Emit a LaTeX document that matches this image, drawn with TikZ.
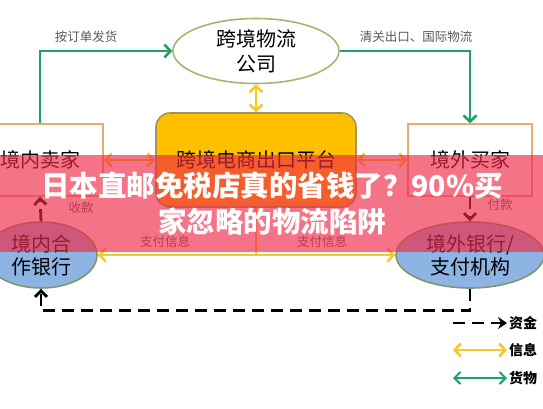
\documentclass[tikz,border=0pt]{standalone}
\usepackage{fontspec}
\setmainfont{Noto Sans CJK SC}
\usepackage{tikz}
\usetikzlibrary{arrows.meta, positioning, shapes.geometric}
\usepackage{xcolor}
\definecolor{goodsgreen}{RGB}{30,162,104}
\definecolor{infoyellow}{RGB}{246,200,40}
\definecolor{platgold}{RGB}{255,192,0}
\definecolor{platedge}{RGB}{160,150,90}
\definecolor{boxtan}{RGB}{232,168,120}
\definecolor{ovalolive}{RGB}{170,180,110}
\definecolor{bankblue}{RGB}{141,180,226}
\definecolor{bankedge}{RGB}{130,150,110}
\definecolor{bannerred}{RGB}{240,40,70}

\begin{document}
\begin{tikzpicture}[x=1pt,y=-1pt,font=\fontsize{20}{25}\selectfont,
    box/.style={draw=boxtan,line width=1.6pt,minimum height=72pt,align=center},
    oval/.style={ellipse,line width=1.6pt,inner sep=0pt,align=center},
    lbl/.style={font=\fontsize{12.5}{14}\selectfont,text=black!65},
    key/.style={font=\fontsize{14}{16}\selectfont\bfseries,anchor=west,inner sep=2pt},
    garr/.style={-{Straight Barb[length=6pt,width=13pt]},goodsgreen,line width=2.6pt},
    yarr/.style={{Straight Barb[length=6pt,width=13pt]}-{Straight Barb[length=6pt,width=13pt]},infoyellow,line width=2.6pt},
    yone/.style={-{Straight Barb[length=6pt,width=13pt]},infoyellow,line width=2.6pt},
    marr/.style={-{Straight Barb[length=6pt,width=12pt]},black,line width=2.8pt,dash pattern=on 12pt off 7pt}]
    \useasboundingbox (0,0) rectangle (543,408);
    \clip (0,0) rectangle (543,408);
    % carriers and platform
    \node[oval,draw=ovalolive,fill=white,minimum width=166pt,minimum height=65pt] (carrier) at (256,51) {跨境物流\\公司};
    \node[draw=platedge,fill=platgold,line width=1.6pt,rounded corners=14pt,
          minimum width=200pt,minimum height=94pt] (plat) at (256,160) {跨境电商出口平台};
    \node[box,minimum width=126pt] (seller) at (40,160) {境内卖家};
    \node[box,minimum width=124pt] (buyer) at (470,160) {境外买家};
    % banks
    \node[oval,draw=bankedge,fill=bankblue,minimum width=112pt,minimum height=66pt,
          font=\fontsize{20}{23}\selectfont] (dbank) at (41,255) {境内合\\作银行};
    \node[oval,draw=bankedge,fill=bankblue,minimum width=148pt,minimum height=66pt,
          font=\fontsize{20}{23}\selectfont] (fbank) at (470,255) {境外银行/\\支付机构};
    % goods
    \draw[garr] (seller.north) |- (carrier.west);
    \draw[garr] (carrier.east) -| (buyer.north);
    \node[lbl] (lship) at (86,37) {按订单发货};
    \node[lbl] (lclear) at (416,37) {清关出口、国际物流};
    % information
    \draw[yarr] (carrier.south) -- (plat.north);
    \draw[yarr] (seller.east) -- (plat.west);\draw[yarr] (plat.east) -- (buyer.west);
    \draw[yone] (plat.south) |- (dbank.east);\draw[yone] (plat.south) |- (fbank.west);
    \node[lbl] (lpay1) at (165,242) {支付信息};
    \node[lbl] (lpay2) at (322,242) {支付信息};
    % money
    \draw[marr] (dbank.north) -- (seller.south);
    \draw[marr] (buyer.south) -- (fbank.north);
    \draw[marr] (fbank.south) -- ++(0,22) -| (dbank.south);
    \node[lbl] (lrecv) at (81,208) {收款};
    \node[lbl] (lsend) at (500,205) {付款};
    % legend
    \coordinate (kf) at (453,323);\coordinate (ki) at (453,350);\coordinate (kg) at (453,378);
    \node[key] (kfund) at (507,323) {资金};
    \node[key] (kinfo) at (507,350) {信息};
    \node[key] (kgood) at (507,378) {货物};
    \draw[marr,-{Stealth[length=9pt,width=12pt]}] (kf) -- (kfund);
    \draw[yarr] (ki) -- (kinfo);
    \draw[garr,line width=2pt,{Straight Barb[length=6pt,width=12pt]}-{Straight Barb[length=6pt,width=12pt]}] (kg) -- (kgood);
    % banner
    \fill[bannerred,opacity=0.65] (0,155) rectangle (543,252);
    \node[text=white,align=center,font=\fontsize{28.5}{36}\selectfont\bfseries] (title) at (272,204)
      {日本直邮免税店真的省钱了？90\%买\\家忽略的物流陷阱};
\end{tikzpicture}
\end{document}
